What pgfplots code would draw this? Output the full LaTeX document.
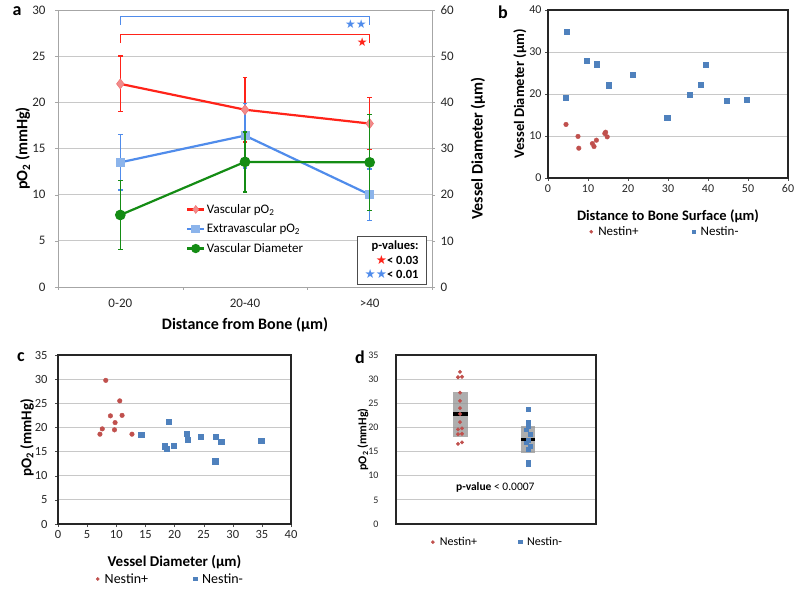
\documentclass[border=0pt]{standalone}
\usepackage{fontspec}
\setmainfont{Carlito}
\newfontfamily\symfont{DejaVu Sans}
\usepackage{pgfplots}
\pgfplotsset{compat=1.18}
\definecolor{aRed}{RGB}{255,35,25}
\definecolor{aBlue}{RGB}{80,140,235}
\definecolor{aGreen}{RGB}{20,140,20}
\definecolor{aRedFill}{RGB}{240,140,140}
\definecolor{aBlueFill}{RGB}{140,180,235}
\definecolor{nPlus}{RGB}{192,80,77}
\definecolor{nMinus}{RGB}{79,129,189}
\definecolor{gridc}{RGB}{200,200,200}
\newcommand{\fs}[1]{\fontsize{#1}{#1}\selectfont}
\pgfplotsset{
  base/.style={scale only axis, anchor=south west,
    /pgf/number format/assume math mode=true,
    grid style={gridc, line width=0.8pt},
    tick align=outside, major tick length=3pt},
  nleg/.style={legend columns=2, legend style={draw=none, fill=none, /tikz/every even column/.append style={column sep=#1}},
    legend image code/.code={\path[draw=none, fill=none] (-3pt,0pt) -- (5pt,0pt); \draw[##1, mark size=1.6pt] plot coordinates {(0pt,0pt)};}},
}
\pgfplotstableread{
x y e
0.5 22.0 3.0
1.5 19.2 3.5
2.5 17.7 2.8
}\vasc
\pgfplotstableread{
x y e
0.5 13.5 3.0
1.5 16.4 3.5
2.5 10.0 2.8
}\extra
\pgfplotstableread{
x y e
0.5 15.6 7.5
1.5 27.1 6.5
2.5 27.0 10.4
}\diam
\begin{document}
\begin{tikzpicture}
\path (0pt,0pt) rectangle (800pt,595pt);
% ---------------- panel a ----------------
\begin{axis}[base, at={(58pt,308pt)}, width=374pt, height=277pt,
  xmin=0, xmax=3, ymin=0, ymax=30,
  xtick={0,1,2,3}, xticklabels={},
  extra x ticks={0.5,1.5,2.5}, extra x tick labels={0-20,20-40,>40},
  extra x tick style={major tick length=0pt, xticklabel style={yshift=-9pt}},
  xtick pos=bottom, ytick pos=left, ytick={0,5,...,30},
  ymajorgrids, axis line style={gray!70}, tick style={gray!70},
  tick label style={font=\fs{13}, text=black!85},
  yticklabel style={xshift=-6pt},
  xlabel={Distance from Bone (µm)}, ylabel={pO\textsubscript{2} (mmHg)},
  label style={font=\bfseries\fs{16}},
  x label style={at={(axis description cs:0.5,-0.137)}, anchor=center},
  y label style={at={(axis description cs:-0.094,0.5)}, anchor=center, rotate=0},
  clip=false]
\addplot[aRed, line width=2.2pt, mark=diamond*, mark size=5pt,
  mark options={fill=aRedFill, draw=aRedFill!80!aRed, line width=0.6pt},
  error bars/.cd, y dir=both, y explicit,
  error bar style={line width=1.5pt, aRed},
  error mark options={rotate=90, mark size=2.2pt, line width=1.5pt, aRed}]
  table[x=x, y=y, y error=e] {\vasc};
\addplot[aBlue, line width=2.2pt, mark=square*, mark size=4pt,
  mark options={fill=aBlueFill, draw=aBlueFill, line width=0.6pt},
  error bars/.cd, y dir=both, y explicit,
  error bar style={line width=1.5pt, aBlue},
  error mark options={rotate=90, mark size=2.2pt, line width=1.5pt, aBlue}]
  table[x=x, y=y, y error=e] {\extra};
\draw[aBlue, line width=1pt] (axis cs:0.5,28.4) -- (axis cs:0.5,29.25) -- (axis cs:2.5,29.25) -- (axis cs:2.5,28.4);
\draw[aRed, line width=1pt] (axis cs:0.5,26.4) -- (axis cs:0.5,27.4) -- (axis cs:2.5,27.4) -- (axis cs:2.5,26.4);
\node[aBlue, font=\symfont\fs{12}, inner sep=0pt] at (axis cs:2.39,28.5) {★★};
\node[aRed, font=\symfont\fs{12}, inner sep=0pt] at (axis cs:2.44,26.5) {★};
\end{axis}
\begin{axis}[base, at={(58pt,308pt)}, width=374pt, height=277pt,
  xmin=0, xmax=3, ymin=0, ymax=60, axis x line=none, axis y line*=right,
  ytick={0,10,...,60}, axis line style={gray!70}, tick style={gray!70},
  tick label style={font=\fs{13}, text=black!85},
  yticklabel style={xshift=2pt},
  ylabel={Vessel Diameter (µm)}, label style={font=\bfseries\fs{16}},
  y label style={at={(axis description cs:1.123,0.5)}, anchor=center, rotate=0},
  legend style={at={(axis description cs:0.342,0.305)}, anchor=north west, draw=none, fill=none,
    font=\fs{13}, row sep=6pt, inner sep=0pt, nodes={inner sep=1.5pt}},
  legend cell align=left, clip=false]
\addlegendimage{aRed, line width=2.2pt, mark=diamond*, mark size=4pt, mark options={fill=aRedFill, draw=aRedFill!80!aRed, line width=0.5pt}}
\addlegendentry{Vascular pO\textsubscript{2}}
\addlegendimage{aBlue, line width=2.2pt, mark=square*, mark size=3.3pt, mark options={fill=aBlueFill, draw=aBlueFill}}
\addlegendentry{Extravascular pO\textsubscript{2}}
\addlegendimage{aGreen, line width=2.2pt, mark=*, mark size=3.5pt}
\addlegendentry{Vascular Diameter}
\addplot[aGreen, line width=2.2pt, mark=*, mark size=4.2pt, forget plot,
  error bars/.cd, y dir=both, y explicit,
  error bar style={line width=1.5pt, aGreen},
  error mark options={rotate=90, mark size=2.2pt, line width=1.5pt, aGreen}]
  table[x=x, y=y, y error=e] {\diam};
\node[draw=black!70, fill=white, line width=0.8pt, minimum width=69pt, minimum height=48pt,
  align=right, font=\bfseries\fs{12.5}, inner sep=3pt] at (rel axis cs:0.892,0.0975)
  {p-values:\\[2pt] {\mdseries\symfont\color{aRed}★}< 0.03\\[2pt] {\mdseries\symfont\color{aBlue}★★}< 0.01};
\end{axis}
% ---------------- panel b ----------------
\begin{axis}[base, at={(548pt,417pt)}, width=240pt, height=168pt,
  xmin=0, xmax=60, ymin=0, ymax=40, xtick={0,10,...,60}, ytick={0,10,...,40},
  xtick pos=bottom, ytick pos=left, ymajorgrids,
  axis line style={black!85, line width=1.2pt}, tick style={black!70},
  tick label style={font=\fs{12}, text=black!85},
  xlabel={Distance to Bone Surface (µm)}, ylabel={Vessel Diameter (µm)},
  label style={font=\bfseries\fs{14.5}},
  x label style={at={(axis description cs:0.5,-0.226)}, anchor=center},
  y label style={at={(axis description cs:-0.117,0.5)}, anchor=center, rotate=0},
  nleg=50pt, legend style={at={(axis description cs:0.485,-0.32)}, anchor=center, font=\fs{13}}]
\addplot[only marks, mark=*, mark size=2.3pt, nPlus] coordinates {
 (4.5,12.75) (7.5,9.9) (7.7,7.1) (11.1,8.2) (11.5,7.5) (12.1,9.0) (14.2,10.6) (14.4,10.9) (14.8,9.8)};
\addlegendentry{Nestin+}
\addplot[only marks, mark=square*, mark size=2.6pt, nMinus] coordinates {
 (4.75,34.85) (4.4,19.1) (9.75,28.0) (12.1,27.1) (15.2,22.1) (21.1,24.5) (29.8,14.3)
 (35.4,19.9) (38.2,22.2) (39.5,27.0) (44.6,18.4) (49.6,18.7)};
\addlegendentry{Nestin-}
\end{axis}
% ---------------- panel c ----------------
\begin{axis}[base, at={(58pt,71pt)}, width=233pt, height=169pt,
  xmin=0, xmax=40, ymin=0, ymax=35, xtick={0,5,...,40}, ytick={0,5,...,35},
  xtick pos=bottom, ytick pos=left, ymajorgrids,
  axis line style={black!85, line width=1.2pt}, tick style={black!70},
  tick label style={font=\fs{12.5}, text=black!85},
  yticklabel style={xshift=-4pt},
  xlabel={Vessel Diameter (µm)}, ylabel={pO\textsubscript{2} (mmHg)},
  label style={font=\bfseries\fs{15}},
  x label style={at={(axis description cs:0.5,-0.225)}, anchor=center},
  y label style={at={(axis description cs:-0.133,0.51)}, anchor=center, rotate=0},
  nleg=42pt, legend style={at={(axis description cs:0.48,-0.325)}, anchor=center, font=\fs{14}}]
\addplot[only marks, mark=*, mark size=2.3pt, nPlus] coordinates {
 (8.2,29.75) (10.6,25.5) (9.0,22.4) (11.0,22.5) (9.8,21.0) (7.6,19.7) (9.7,19.5) (7.2,18.6) (12.7,18.6)};
\addlegendentry{Nestin+}
\addplot[only marks, mark=square*, mark size=2.6pt, nMinus] coordinates {
 (14.3,18.5) (19.0,21.2) (22.1,18.7) (22.3,17.5) (24.5,18.1) (27.1,18.0) (28.0,17.0)
 (27.0,13.0) (34.9,17.2) (18.3,16.1) (18.6,15.6) (19.9,16.2)};
\addlegendentry{Nestin-}
\end{axis}
% ---------------- panel d ----------------
\begin{axis}[base, at={(396pt,71pt)}, width=200pt, height=169pt,
  xmin=0, xmax=3, ymin=0, ymax=35, xtick=\empty, ytick={0,5,...,35},
  ytick pos=left, ymajorgrids, major tick length=0pt,
  axis line style={black!85, line width=1.2pt},
  tick label style={font=\fs{10}, text=black!85},
  yticklabel style={xshift=-14pt},
  ylabel={pO\textsubscript{2} (mmHg)}, label style={font=\bfseries\fs{12}},
  y label style={at={(axis description cs:-0.165,0.5)}, anchor=center, rotate=0},
  nleg=38pt, legend style={at={(axis description cs:0.505,-0.107)}, anchor=center, font=\fs{12}}]
\addplot[only marks, mark=*, mark size=1.8pt, nPlus] coordinates {
 (0.96,31.5) (0.93,30.4) (0.99,30.5) (0.96,27.2) (0.96,25.5) (0.96,24.0) (0.96,22.8)
 (0.96,21.1) (0.93,19.6) (0.99,19.8) (0.93,18.6) (0.99,18.7) (0.93,16.6) (0.99,16.9)};
\addlegendentry{Nestin+}
\addplot[only marks, mark=square*, mark size=1.8pt, nMinus] coordinates {
 (1.98,23.8) (1.98,21.2) (1.98,20.2) (1.95,19.5) (2.01,18.6) (1.98,17.4) (1.95,16.8)
 (2.01,16.1) (1.98,15.5) (1.98,12.9) (1.98,12.4)};
\addlegendentry{Nestin-}
\addplot[draw=none, fill=gray!85, fill opacity=0.75, forget plot] coordinates {
 (0.855,18.1) (1.08,18.1) (1.08,27.4) (0.855,27.4)} -- cycle;
\addplot[draw=none, fill=gray!85, fill opacity=0.75, forget plot] coordinates {
 (1.875,14.8) (2.085,14.8) (2.085,20.3) (1.875,20.3)} -- cycle;
\addplot[black, line width=3.5pt, forget plot] coordinates {(0.855,22.8) (1.08,22.8)};
\addplot[black, line width=3.5pt, forget plot] coordinates {(1.875,17.5) (2.085,17.5)};
\node[font=\fs{11.5}] at (axis cs:1.49,7.5) {\textbf{p-value} < 0.0007};
\end{axis}
% panel letters
\node[font=\bfseries\fs{18}] at (17pt,584pt) {a};
\node[font=\bfseries\fs{18}] at (503pt,583pt) {b};
\node[font=\bfseries\fs{18}] at (21pt,238pt) {c};
\node[font=\bfseries\fs{18}] at (360pt,238pt) {d};
\end{tikzpicture}
\end{document}
